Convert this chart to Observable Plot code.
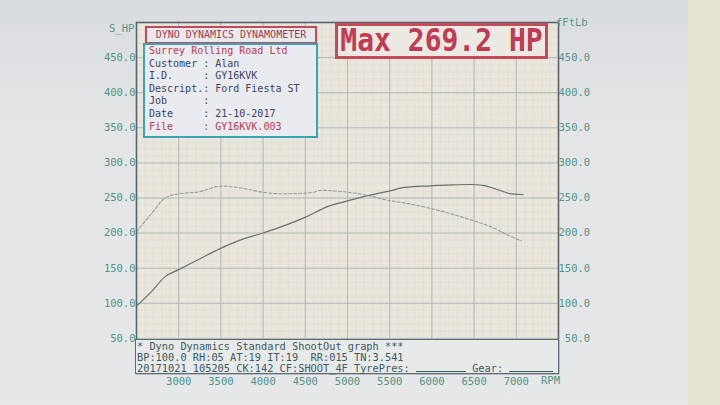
<!DOCTYPE html>
<html><head><meta charset="utf-8">
<script src="https://cdn.jsdelivr.net/npm/d3@7"></script>
<script src="https://cdn.jsdelivr.net/npm/@observablehq/plot@0.6"></script>
<style>
html,body{margin:0;padding:0;}
body{width:720px;height:405px;overflow:hidden;background:#e2e4e6;position:relative;font-family:"DejaVu Sans Mono",monospace;}
#chart{position:absolute;left:0;top:0;}
.ov{position:absolute;white-space:pre;font-family:"DejaVu Sans Mono",monospace;box-sizing:border-box;}
.blank{display:inline-block;width:50px;height:8px;border-bottom:1px solid #3c5a62;vertical-align:baseline;}
</style></head><body>
<div class="ov" style="left:0;top:0;width:720px;height:405px;background:linear-gradient(180deg,#d9dcdf 0%,#e3e5e7 30%,#e6e7e8 100%);"></div>
<div class="ov" style="left:688px;top:0;width:32px;height:405px;background:#e6e2d2;"></div>
<div id="chart"></div>
<script>
// ---- data read from the dyno sheet ----
const powerRpm = [2500, 2680, 2840, 3000, 3230, 3510, 3750, 3980, 4260, 4490, 4770, 4990, 5200, 5480, 5680, 5990, 6230, 6450, 6620, 6780, 6940, 7080];
const powerHp  = [96, 117, 138, 148, 162, 179, 191, 199.5, 211, 222, 238, 245.5, 252.4, 259.5, 265, 267.3, 268.6, 269.2, 267.5, 261.8, 256, 255];
const torqueRpm = [2500, 2680, 2840, 3000, 3230, 3510, 3750, 3980, 4220, 4570, 4690, 4850, 5050, 5200, 5480, 5720, 5990, 6470, 6700, 6900, 7060];
const torqueFtLb = [202, 228, 250, 256, 258.5, 267, 264, 258.5, 256, 257.5, 261, 260, 257.5, 254.7, 246.7, 242, 235, 218.5, 209, 197, 189];
const rpmTicks = [3000, 3500, 4000, 4500, 5000, 5500, 6000, 6500, 7000];
const valueTicks = [50, 100, 150, 200, 250, 300, 350, 400, 450];

const powerData = powerRpm.map((r, i) => ({rpm: r, v: powerHp[i]}));
const torqueData = torqueRpm.map((r, i) => ({rpm: r, v: torqueFtLb[i]}));
const teal = "#4f9484";

const chart = Plot.plot({
  width: 720, height: 405,
  marginLeft: 136, marginRight: 162, marginTop: 22, marginBottom: 32,
  style: {background: "transparent", fontFamily: "DejaVu Sans Mono, monospace", fontSize: "10px"},
  x: {domain: [2500, 7500]},
  y: {domain: [0, 500]},
  marks: [
    Plot.frame({fill: "#e9e6dc"}),
    Plot.gridX(d3.range(2500, 7501, 100), {stroke: "#e0ddd4", strokeOpacity: 1, strokeWidth: 0.7}),
    Plot.gridY(d3.range(0, 501, 10), {stroke: "#e0ddd4", strokeOpacity: 1, strokeWidth: 0.7}),
    Plot.gridX(rpmTicks, {stroke: "#b2b9bd", strokeOpacity: 1, strokeWidth: 1}),
    Plot.gridY(valueTicks, {stroke: "#b2b9bd", strokeOpacity: 1, strokeWidth: 1}),
    Plot.line(torqueData, {x: "rpm", y: "v", stroke: "#979d9c", strokeWidth: 1.1, strokeDasharray: "3,2", curve: "monotone-x"}),
    Plot.line(powerData, {x: "rpm", y: "v", stroke: "#687171", strokeWidth: 1.2, curve: "monotone-x"}),
    Plot.frame({stroke: "#59636a", strokeWidth: 1.6}),
    Plot.axisX(rpmTicks, {anchor: "bottom", tickSize: 0, tickPadding: 4, color: teal, fontSize: 10.5, label: null, tickFormat: d => String(d)}),
    Plot.axisY(valueTicks, {anchor: "left", tickSize: 0, tickPadding: 1, color: teal, fontSize: 10.5, label: null, tickFormat: d => d.toFixed(1)}),
    Plot.axisY(valueTicks, {anchor: "right", tickSize: 0, tickPadding: 0, color: teal, fontSize: 10.5, label: null, tickFormat: d => d.toFixed(1).padStart(5, "\u00a0")})
  ]
});
document.getElementById("chart").appendChild(chart);
</script>

<div class="ov" style="left:109px;top:22px;font-size:10.5px;color:#5a9585;">S_HP</div>
<div class="ov" style="left:556px;top:16px;font-size:10.5px;color:#5a9585;">fFtLb</div>
<div class="ov" style="left:541px;top:374px;font-size:10.5px;color:#4f9484;">RPM</div>

<div class="ov" style="left:145px;top:26px;width:172px;height:18px;border:2px solid #c24a5d;background:#e9e9ec;font-size:10px;line-height:14px;text-align:center;color:#9e3e52;">DYNO DYNAMICS DYNAMOMETER</div>

<div class="ov" style="left:143px;top:43px;width:175px;height:95px;border:2px solid #3aa3b6;background:#eaebee;font-size:10px;line-height:12.6px;padding-left:4px;color:#3a4466;"><span style="color:#b33c53">Surrey Rolling Road Ltd</span>
Customer : Alan
I.D.     : GY16KVK
Descript.: Ford Fiesta ST
Job      :
Date     : 21-10-2017
<span style="color:#b33c53">File     : GY16KVK.003</span></div>

<div class="ov" style="left:335px;top:23px;width:213px;height:36px;border:3px solid #c44a5c;background:#ebe9e2;font-size:28px;font-weight:bold;line-height:30px;text-align:center;color:#c03b53;"><span style="display:inline-block;transform:scaleY(1.12);">Max 269.2 HP</span></div>

<div class="ov" style="left:135px;top:339px;width:424px;height:35px;border:1.5px solid #5a6c72;background:#e8e9e9;font-size:10.3px;line-height:10.8px;padding-left:1px;padding-top:1px;color:#3c5a62;">* Dyno Dynamics Standard ShootOut graph ***
BP:100.0 RH:05 AT:19 IT:19  RR:015 TN:3.541
20171021 105205 CK:142 CF:SHOOT_4F TyrePres: <span class="blank"></span> Gear: <span class="blank" style="width:44px"></span></div>
</body></html>
